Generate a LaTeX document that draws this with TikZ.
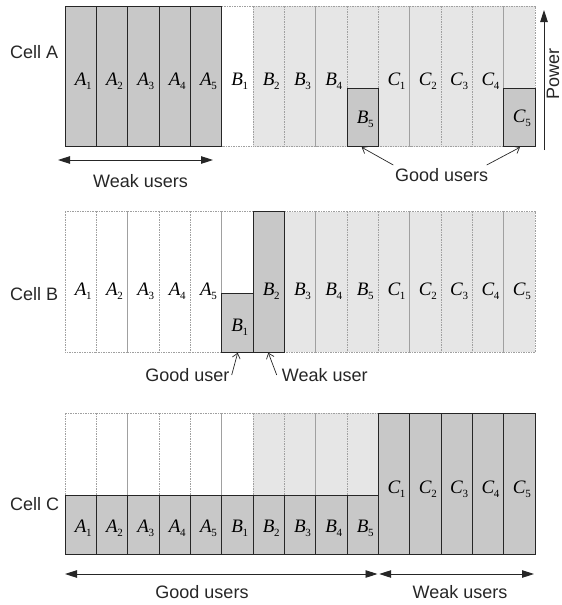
\documentclass[tikz,border=0pt]{standalone}
\usepackage{fontspec}
\setmainfont{Liberation Sans}
\newfontfamily\tms{Liberation Serif}
\usetikzlibrary{arrows.meta}
\definecolor{dk}{HTML}{C8C8C8}
\definecolor{lt}{HTML}{E6E6E6}
\definecolor{lnc}{HTML}{262626}
\definecolor{dshc}{HTML}{A0A0A0}
\newcommand\ul[2]{{\tms\fontsize{19}{19}\selectfont\itshape #1\kern-0.3pt\raisebox{-0.22em}{\upshape\fontsize{11}{11}\selectfont #2}}}
\newcommand\cellbox[4]{\path[#4] ({65+#1*31.333},#2) rectangle ({65+(#1+1)*31.333},#3);}
\begin{document}
\begin{tikzpicture}[x=1pt,y=-1pt,
  dsh/.style={draw=dshc, line width=0.5pt, dash pattern=on 1.5pt off 1pt},
  sol/.style={draw=lnc, line width=0.9pt},
  lab/.style={anchor=base, inner sep=0pt},
  txt/.style={inner sep=0pt, text=lnc, font=\fontsize{18}{20}\selectfont},
  bigarr/.style={draw=lnc, line width=0.9pt, {Triangle[length=12pt,width=7.5pt]}-{Triangle[length=12pt,width=7.5pt]}},
  onearr/.style={draw=lnc, line width=0.9pt, -{Triangle[length=12pt,width=7.5pt]}},
  thinarr/.style={line width=0.7pt, -{Straight Barb[length=5pt,width=8pt]}, draw=lnc}]
\useasboundingbox (0,0) rectangle (562,605);
% ---------- Row A ----------
\cellbox{5}{6}{146.7}{fill=white,dsh}
\foreach \i in {6,...,14} {\cellbox{\i}{6}{146.7}{fill=lt,dsh}}
\foreach \i in {0,...,4} {\cellbox{\i}{6}{146.7}{fill=dk,sol}}
\cellbox{9}{88.3}{146.7}{fill=dk,sol}
\cellbox{14}{88.3}{146.7}{fill=dk,sol}
\foreach \i/\L/\s in {0/A/1,1/A/2,2/A/3,3/A/4,4/A/5,5/B/1,6/B/2,7/B/3,8/B/4,10/C/1,11/C/2,12/C/3,13/C/4}
  {\node[lab] (a\i) at ({65+(\i+0.5)*31.333+2.5},85) {\ul{\L}{\s}};}
\node[lab] (a9) at ({65+9.5*31.333+2.5},123) {\ul{B}{5}};
\node[lab] (a14) at ({65+14.5*31.333+2.5},122) {\ul{C}{5}};
\node[txt, anchor=base west] (cellA) at (10,58.3) {Cell A};
\coordinate (wA1) at (58,160);
\coordinate (wA2) at (213,160);
\draw[bigarr] (wA1) -- (wA2);
\node[txt, anchor=base] (weakA) at (140.5,187) {Weak users};
\node[txt, anchor=base] (goodA) at (441.7,181.7) {Good users};
\coordinate (gA1) at (393.3,165);
\coordinate (gA1t) at (361.7,147.3);
\coordinate (gA2) at (486.7,165);
\coordinate (gA2t) at (520,147.3);
\draw[thinarr] (gA1) -- (gA1t);
\draw[thinarr] (gA2) -- (gA2t);
\coordinate (p1) at (544,150);
\coordinate (p2) at (544,10);
\draw[onearr] (p1) -- (p2);
\node[txt, anchor=base west, rotate=90] (power) at (559,100) {Power};
% ---------- Row B ----------
\foreach \i in {0,...,5} {\cellbox{\i}{211.7}{352.3}{fill=white,dsh}}
\foreach \i in {7,...,14} {\cellbox{\i}{211.7}{352.3}{fill=lt,dsh}}
\cellbox{6}{211}{352.3}{fill=dk,sol}
\cellbox{5}{293.3}{352.3}{fill=dk,sol}
\foreach \i/\L/\s in {0/A/1,1/A/2,2/A/3,3/A/4,4/A/5,6/B/2,7/B/3,8/B/4,9/B/5,10/C/1,11/C/2,12/C/3,13/C/4,14/C/5}
  {\node[lab] (b\i) at ({65+(\i+0.5)*31.333+2.5},295) {\ul{\L}{\s}};}
\node[lab] (b5) at ({65+5.5*31.333+2.5},331.7) {\ul{B}{1}};
\node[txt, anchor=base west] (cellB) at (10,300) {Cell B};
\node[txt, anchor=base east] (goodB) at (229.5,381.7) {Good user};
\node[txt, anchor=base west] (weakB) at (281.7,381.7) {Weak user};
\coordinate (gB) at (231.7,375);
\coordinate (gBt) at (237.7,352.7);
\coordinate (wB) at (276.7,375);
\coordinate (wBt) at (268.3,352.7);
\draw[thinarr] (gB) -- (gBt);
\draw[thinarr] (wB) -- (wBt);
% ---------- Row C ----------
\foreach \i in {0,...,5} {\cellbox{\i}{413.3}{554}{fill=white,dsh}}
\foreach \i in {6,...,9} {\cellbox{\i}{413.3}{554}{fill=lt,dsh}}
\foreach \i in {0,...,9} {\cellbox{\i}{495.7}{554}{fill=dk,sol}}
\foreach \i in {10,...,14} {\cellbox{\i}{413.3}{554}{fill=dk,sol}}
\foreach \i/\L/\s in {0/A/1,1/A/2,2/A/3,3/A/4,4/A/5,5/B/1,6/B/2,7/B/3,8/B/4,9/B/5}
  {\node[lab] (c\i) at ({65+(\i+0.5)*31.333+2.5},532) {\ul{\L}{\s}};}
\foreach \i/\L/\s in {10/C/1,11/C/2,12/C/3,13/C/4,14/C/5}
  {\node[lab] (c\i) at ({65+(\i+0.5)*31.333+2.5},493) {\ul{\L}{\s}};}
\node[txt, anchor=base west] (cellC) at (10,510) {Cell C};
\coordinate (gC1) at (65,574);
\coordinate (gC2) at (377.5,574);
\coordinate (wC1) at (379.2,574);
\coordinate (wC2) at (534,574);
\draw[bigarr] (gC1) -- (gC2);
\draw[bigarr] (wC1) -- (wC2);
\node[txt, anchor=base] (goodC) at (202,598) {Good users};
\node[txt, anchor=base] (weakC) at (460,598) {Weak users};
\end{tikzpicture}
\end{document}
